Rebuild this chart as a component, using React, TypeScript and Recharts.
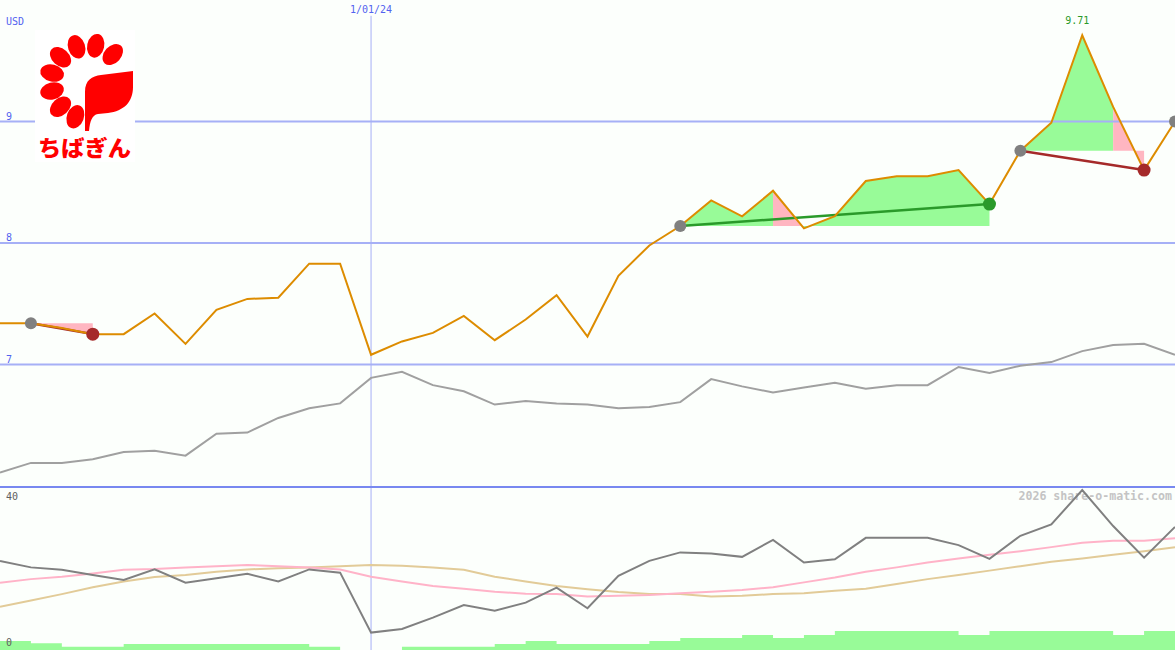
import React from 'react';
import {
  Area,
  ComposedChart,
  Line,
  ReferenceLine,
  XAxis,
  YAxis,
} from 'recharts';

// weekly closes, USD
const price = [
  7.34, 7.34, 7.3, 7.25, 7.25, 7.42, 7.17, 7.45, 7.54, 7.55, 7.83, 7.83, 7.08,
  7.19, 7.26, 7.4, 7.2, 7.37, 7.57, 7.23, 7.73, 7.98, 8.14, 8.35, 8.22, 8.43,
  8.12, 8.22, 8.51, 8.55, 8.55, 8.6, 8.32, 8.76, 8.99, 9.71, 9.12, 8.6, 9.0,
];
// relative index line, drawn in the price panel
const relIndex = [
  6.11, 6.19, 6.19, 6.22, 6.28, 6.29, 6.25, 6.43, 6.44, 6.56, 6.64, 6.68, 6.89,
  6.94, 6.83, 6.78, 6.67, 6.7, 6.68, 6.67, 6.64, 6.65, 6.69, 6.88, 6.82, 6.77,
  6.81, 6.85, 6.8, 6.83, 6.83, 6.98, 6.93, 6.99, 7.02, 7.11, 7.16, 7.17, 7.08,
];
// lower panel
const osc = [
  22.0, 20.4, 19.8, 18.5, 17.3, 19.9, 16.6, 17.7, 18.8, 16.9, 19.9, 19.1, 4.3,
  5.2, 8.0, 11.1, 9.7, 11.7, 15.4, 10.3, 18.3, 22.0, 24.1, 23.8, 23.0, 27.2,
  21.6, 22.4, 27.7, 27.7, 27.7, 25.9, 22.5, 28.2, 31.0, 39.5, 30.6, 22.8, 30.4,
];
const maShort = [
  16.6, 17.5, 18.1, 18.9, 19.8, 20.0, 20.4, 20.7, 21.0, 20.7, 20.4, 19.9, 18.1,
  16.9, 15.8, 15.1, 14.4, 13.9, 13.8, 13.2, 13.4, 13.6, 14.0, 14.4, 14.8, 15.5,
  16.7, 17.9, 19.3, 20.4, 21.6, 22.6, 23.5, 24.4, 25.4, 26.5, 27.0, 27.0, 27.6,
];
const maLong = [
  10.7, 12.2, 13.8, 15.5, 16.9, 18.0, 18.5, 19.3, 19.9, 20.2, 20.4, 20.7, 21.0,
  20.8, 20.4, 19.8, 18.1, 16.9, 15.8, 15.0, 14.3, 13.8, 13.8, 13.2, 13.4, 13.8,
  14.0, 14.6, 15.1, 16.3, 17.5, 18.5, 19.6, 20.7, 21.8, 22.6, 23.5, 24.4, 25.4,
];
const volume = [
  44, 33, 16, 16, 30, 30, 30, 30, 30, 30, 16, 0, 0, 16, 16, 16, 30, 44, 30, 30,
  30, 44, 59, 59, 74, 59, 74, 94, 94, 94, 94, 74, 94, 94, 94, 94, 74, 94, 94,
];

const startLabel = '2/10/23';
const endLabel = '1/07/24';
const yearMark = { k: 12, label: '1/01/24' };
const priceTicks = [7, 8, 9];
const oscTicks = [0, 40];

const trends = [
  { from: 1, to: 3 },
  { from: 22, to: 32 },
  { from: 33, to: 37 },
];
const shadeRuns = [
  { trend: 0, from: 1, to: 3, tone: 'fall' },
  { trend: 1, from: 22, to: 25, tone: 'rise' },
  { trend: 1, from: 25, to: 26, tone: 'fall' },
  { trend: 1, from: 26, to: 32, tone: 'rise' },
  { trend: 2, from: 33, to: 36, tone: 'rise' },
  { trend: 2, from: 36, to: 37, tone: 'fall' },
];

const W = 1175;
const TOP_H = 486;
const BOTTOM_H = 162;
const font = '"DejaVu Sans Mono", monospace';
const blue = '#5363f0';
const grid = '#a6b0f6';
const upColor = '#2a9a2a';
const downColor = '#a52a2a';

const lastIdx = price.length - 1;
const minIdx = price.indexOf(Math.min(...price));
const maxIdx = price.indexOf(Math.max(...price));

const rows = price.map((p, k) => {
  const row: Record<string, any> = {
    k,
    price: p,
    rel: relIndex[k],
    osc: osc[k],
    maShort: maShort[k],
    maLong: maLong[k],
    vol: volume[k],
  };
  shadeRuns.forEach((r, i) => {
    const base = price[trends[r.trend].from];
    row[`shade${i}`] = k >= r.from && k <= r.to ? [base, p] : null;
  });
  trends.forEach((t, i) => {
    row[`trend${i}`] = k === t.from || k === t.to ? p : null;
  });
  row.dotStart = trends.some((t) => t.from === k) || k === lastIdx ? p : null;
  row.dotUp = trends.some((t) => t.to === k && price[t.to] >= price[t.from]) ? p : null;
  row.dotDown = trends.some((t) => t.to === k && price[t.to] < price[t.from]) ? p : null;
  return row;
});

const PriceTick = ({ y, payload }: any) => (
  <text x={6} y={y - 2} fill={blue} fontSize={10} fontFamily={font}>
    {payload.value}
  </text>
);

const OscTick = ({ y, payload }: any) => (
  <text
    x={6}
    y={payload.value === 0 ? y - 4 : y + 11.5}
    fill="#606060"
    fontSize={10}
    fontFamily={font}
  >
    {payload.value}
  </text>
);

const BottomTick = ({ x, payload }: any) => {
  const k = payload.value;
  if (k === 0)
    return (
      <text x={x + 8} y={483} fill={blue} fontSize={10} fontFamily={font}>
        {startLabel}
      </text>
    );
  if (k === lastIdx)
    return (
      <text x={x - 3} y={483} textAnchor="end" fill={blue} fontSize={10} fontFamily={font}>
        {endLabel}
      </text>
    );
  return (
    <text x={x - 6} y={483} textAnchor="middle" fill={downColor} fontSize={10} fontFamily={font}>
      {price[k].toFixed(2)}
    </text>
  );
};

const PeakLabel = (props: any) => {
  if (props.index !== maxIdx && props.value !== price[maxIdx]) return null;
  return (
    <text
      x={props.x - 5}
      y={props.y - 11.5}
      textAnchor="middle"
      fill={upColor}
      fontSize={10}
      fontFamily={font}
    >
      {Number(props.value).toFixed(2)}
    </text>
  );
};

// angles of the logo petals around the ring
const petals = [-48, -78, -108, -138, -166, 166, 138, 110];

const Logo = () => (
  <g>
    <rect x={35} y={30} width={100} height={132} fill="#ffffff" />
    {petals.map((a) => {
      const r = (a * Math.PI) / 180;
      const cx = 88 + 37 * Math.cos(r);
      const cy = 82 + 37 * Math.sin(r);
      return (
        <ellipse
          key={a}
          cx={cx}
          cy={cy}
          rx={8.5}
          ry={12}
          fill="#ff0000"
          transform={`rotate(${a + 90} ${cx} ${cy})`}
        />
      );
    })}
    <path
      d="M85 131 L85 92 C85 80 92 76 101 75 L133 71 L133 87 C133 102 124 111 108 113 L98 114 C92 115 90 121 89 131 Z"
      fill="#ff0000"
    />
    <text
      x={38}
      y={156}
      fill="#ff0000"
      fontSize={22}
      fontWeight={900}
      fontFamily='"Noto Sans CJK JP", sans-serif'
      textLength={93}
      lengthAdjust="spacingAndGlyphs"
    >
      ちばぎん
    </text>
  </g>
);

export default function App() {
  return (
    <div
      style={{
        position: 'absolute',
        left: 0,
        top: 0,
        width: W,
        height: 650,
        background: '#fcfffc',
        overflow: 'hidden',
      }}
    >
      <style>{'body{margin:0}'}</style>
      <div style={{ position: 'absolute', left: 0, top: 0 }}>
        <ComposedChart width={W} height={TOP_H} data={rows} margin={{ top: 0, right: 0, bottom: 0, left: 0 }}>
          <XAxis
            type="number"
            dataKey="k"
            domain={[0, lastIdx]}
            ticks={[0, minIdx, lastIdx]}
            interval={0}
            mirror
            height={0}
            axisLine={false}
            tickLine={false}
            tick={<BottomTick />}
          />
          <YAxis
            domain={[6, 10]}
            ticks={priceTicks}
            interval={0}
            mirror
            axisLine={false}
            tickLine={false}
            tick={<PriceTick />}
          />
          {priceTicks.map((v) => (
            <ReferenceLine key={v} y={v} stroke={grid} strokeWidth={2} />
          ))}
          <ReferenceLine
            segment={[
              { x: yearMark.k, y: 9.87 },
              { x: yearMark.k, y: 6 },
            ]}
            stroke={grid}
            strokeWidth={1}
            label={{
              value: yearMark.label,
              position: 'top',
              offset: 3,
              fill: blue,
              fontSize: 10,
              fontFamily: font,
            }}
          />
          {shadeRuns.map((r, i) => (
            <Area
              key={`shade${i}`}
              dataKey={`shade${i}`}
              type="linear"
              stroke="none"
              fill={r.tone === 'rise' ? '#98fb98' : '#ffb6c1'}
              fillOpacity={1}
              isAnimationActive={false}
              activeDot={false}
            />
          ))}
          <Line
            dataKey="rel"
            type="linear"
            stroke="#a0a0a0"
            strokeWidth={2}
            dot={false}
            activeDot={false}
            isAnimationActive={false}
          />
          {trends.map((t, i) => (
            <Line
              key={`trend${i}`}
              dataKey={`trend${i}`}
              type="linear"
              connectNulls
              stroke={price[t.to] >= price[t.from] ? upColor : downColor}
              strokeWidth={2.5}
              dot={false}
              activeDot={false}
              isAnimationActive={false}
            />
          ))}
          <Line
            dataKey="price"
            type="linear"
            stroke="#dd8c00"
            strokeWidth={2}
            dot={false}
            activeDot={false}
            isAnimationActive={false}
            label={(p: any) => <PeakLabel {...p} />}
          />
          <Line
            dataKey="dotStart"
            stroke="none"
            dot={{ r: 6, fill: '#808080', stroke: 'none' }}
            activeDot={false}
            isAnimationActive={false}
          />
          <Line
            dataKey="dotUp"
            stroke="none"
            dot={{ r: 6.5, fill: upColor, stroke: 'none' }}
            activeDot={false}
            isAnimationActive={false}
          />
          <Line
            dataKey="dotDown"
            stroke="none"
            dot={{ r: 6.5, fill: downColor, stroke: 'none' }}
            activeDot={false}
            isAnimationActive={false}
          />
        </ComposedChart>
      </div>
      <div style={{ position: 'absolute', left: 0, top: TOP_H, width: W, height: 2, background: '#7888f0' }} />
      <svg
        width={W}
        height={BOTTOM_H}
        style={{ position: 'absolute', left: 0, top: TOP_H + 2 }}
      >
        <text
          x={1172}
          y={12}
          textAnchor="end"
          fill="#c4c4c4"
          fontSize={11.6}
          fontWeight="bold"
          fontFamily={font}
        >
          2026 share-o-matic.com
        </text>
      </svg>
      <div style={{ position: 'absolute', left: 0, top: TOP_H + 2 }}>
        <ComposedChart width={W} height={BOTTOM_H} data={rows} margin={{ top: 0, right: 0, bottom: 0, left: 0 }}>
          <XAxis type="number" dataKey="k" domain={[0, lastIdx]} hide />
          <YAxis
            yAxisId="osc"
            domain={[0, 40]}
            ticks={oscTicks}
            interval={0}
            mirror
            axisLine={false}
            tickLine={false}
            tick={<OscTick />}
          />
          <YAxis yAxisId="vol" domain={[0, 800]} hide />
          <Area
            yAxisId="vol"
            dataKey="vol"
            type="stepAfter"
            stroke="none"
            fill="#98fb98"
            fillOpacity={1}
            isAnimationActive={false}
            activeDot={false}
          />
          <ReferenceLine yAxisId="osc" x={yearMark.k} stroke={grid} strokeWidth={1} />
          <Line
            yAxisId="osc"
            dataKey="maLong"
            type="linear"
            stroke="#e2cb98"
            strokeWidth={2}
            dot={false}
            activeDot={false}
            isAnimationActive={false}
          />
          <Line
            yAxisId="osc"
            dataKey="maShort"
            type="linear"
            stroke="#ffb3c8"
            strokeWidth={2}
            dot={false}
            activeDot={false}
            isAnimationActive={false}
          />
          <Line
            yAxisId="osc"
            dataKey="osc"
            type="linear"
            stroke="#808080"
            strokeWidth={2}
            dot={false}
            activeDot={false}
            isAnimationActive={false}
          />
        </ComposedChart>
      </div>
      <svg width={W} height={650} style={{ position: 'absolute', left: 0, top: 0, pointerEvents: 'none' }}>
        <text x={6} y={24.5} fill={blue} fontSize={10} fontFamily={font}>
          USD
        </text>
        <Logo />
      </svg>
    </div>
  );
}
